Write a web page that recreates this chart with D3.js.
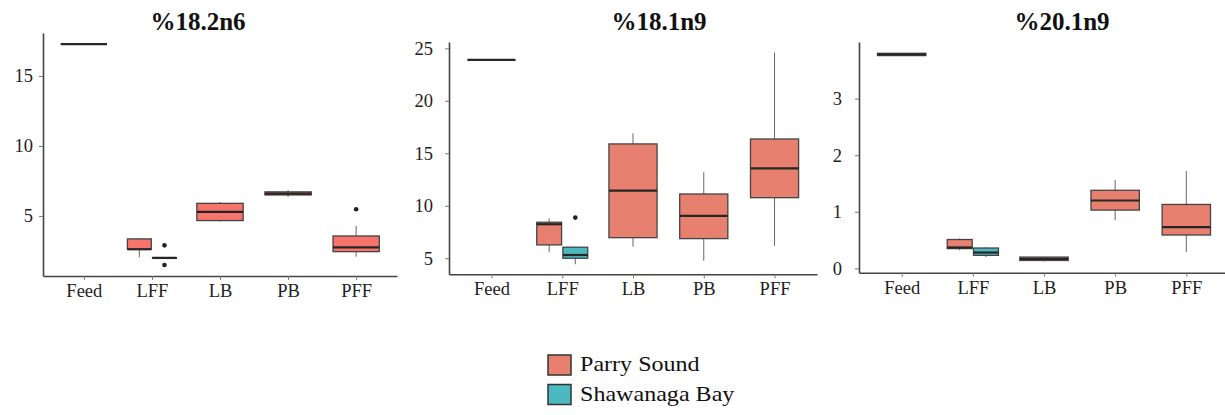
<!DOCTYPE html>
<html>
<head>
<meta charset="utf-8">
<script src="https://cdn.jsdelivr.net/npm/d3@7"></script>
<style>
  body { margin: 0; background: #fff; }
  svg { display: block; }
  text { font-family: "Liberation Serif", serif; }
  .tick text { fill: #1e1e1e; font-size: 18.5px; }
</style>
</head>
<body>
<svg id="chart" width="1225" height="415"></svg>
<script>
const categories = ['Feed', 'LFF', 'LB', 'PB', 'PFF'];
const sites = ['Parry Sound', 'Shawanaga Bay'];
const titles = ['%18.2n6', '%18.1n9', '%20.1n9'];

const ticks182n6 = [5, 10, 15];
const ticks181n9 = [5, 10, 15, 20, 25];
const ticks201n9 = [0, 1, 2, 3];

// box stats: lo/hi = whisker ends
const boxes182n6 = [
  { cat: 'Feed', site: 'Parry Sound', lo: 17.28, q1: 17.28, med: 17.28, q3: 17.28, hi: 17.28, out: [] },
  { cat: 'LFF', site: 'Parry Sound', lo: 2.05, q1: 2.62, med: 2.62, q3: 3.36, hi: 3.4, out: [] },
  { cat: 'LFF', site: 'Shawanaga Bay', lo: 2.0, q1: 1.97, med: 2.0, q3: 2.03, hi: 2.0, out: [2.9, 1.5] },
  { cat: 'LB', site: 'Parry Sound', lo: 4.6, q1: 4.67, med: 5.29, q3: 5.9, hi: 6.0, out: [] },
  { cat: 'PB', site: 'Parry Sound', lo: 6.35, q1: 6.5, med: 6.6, q3: 6.72, hi: 6.85, out: [] },
  { cat: 'PFF', site: 'Parry Sound', lo: 2.09, q1: 2.45, med: 2.76, q3: 3.57, hi: 4.29, out: [5.48] }
];
const boxes181n9 = [
  { cat: 'Feed', site: 'Parry Sound', lo: 23.9, q1: 23.9, med: 23.9, q3: 23.9, hi: 23.9, out: [] },
  { cat: 'LFF', site: 'Parry Sound', lo: 5.57, q1: 6.27, med: 8.24, q3: 8.43, hi: 8.8, out: [] },
  { cat: 'LFF', site: 'Shawanaga Bay', lo: 4.43, q1: 5.0, med: 5.31, q3: 6.05, hi: 6.05, out: [8.87] },
  { cat: 'LB', site: 'Parry Sound', lo: 6.1, q1: 6.96, med: 11.44, q3: 15.89, hi: 16.9, out: [] },
  { cat: 'PB', site: 'Parry Sound', lo: 4.77, q1: 6.87, med: 9.03, q3: 11.12, hi: 13.19, out: [] },
  { cat: 'PFF', site: 'Parry Sound', lo: 6.2, q1: 10.77, med: 13.57, q3: 16.36, hi: 24.6, out: [] }
];
const boxes201n9 = [
  { cat: 'Feed', site: 'Parry Sound', lo: 3.76, q1: 3.76, med: 3.78, q3: 3.8, hi: 3.8, out: [] },
  { cat: 'LFF', site: 'Parry Sound', lo: 0.32, q1: 0.35, med: 0.37, q3: 0.51, hi: 0.53, out: [] },
  { cat: 'LFF', site: 'Shawanaga Bay', lo: 0.2, q1: 0.23, med: 0.28, q3: 0.36, hi: 0.38, out: [] },
  { cat: 'LB', site: 'Parry Sound', lo: 0.12, q1: 0.14, med: 0.17, q3: 0.2, hi: 0.2, out: [] },
  { cat: 'PB', site: 'Parry Sound', lo: 0.85, q1: 1.03, med: 1.2, q3: 1.38, hi: 1.56, out: [] },
  { cat: 'PFF', site: 'Parry Sound', lo: 0.29, q1: 0.59, med: 0.73, q3: 1.13, hi: 1.72, out: [] }
];

const panels = [
  { title: titles[0], boxes: boxes182n6, ticks: ticks182n6, domain: [0.71, 18.07],
    x0: 43, x1: 397, yTop: 33, yBot: 276, titleX: 198, pad: 6, parry: '#F6746B' },
  { title: titles[1], boxes: boxes181n9, ticks: ticks181n9, domain: [3.47, 25.6],
    x0: 449, x1: 817, yTop: 42, yBot: 274.3, titleX: 659, pad: 12, parry: '#E8806F' },
  { title: titles[2], boxes: boxes201n9, ticks: ticks201n9, domain: [-0.076, 4.0],
    x0: 859, x1: 1229, yTop: 42, yBot: 272.7, titleX: 1062, pad: 13, parry: '#E8806F' }
];

const shawColor = '#4BB9BF';
const svg = d3.select('#chart');

panels.forEach(p => {
  const g = svg.append('g');
  const x = d3.scalePoint().domain(categories).range([p.x0, p.x1]).padding(0.6);
  const step = x.step();
  const y = d3.scaleLinear().domain(p.domain).range([p.yBot, p.yTop]);
  const dodge = d3.scaleBand().domain(sites).range([-0.36 * step, 0.36 * step]).paddingInner(0.05);
  const color = d3.scaleOrdinal().domain(sites).range([p.parry, shawColor]);

  p.boxes.forEach(b => {
    const n = p.boxes.filter(o => o.cat === b.cat).length;
    const w = n > 1 ? dodge.bandwidth() : 0.68 * step;
    const cx = x(b.cat) + (n > 1 ? dodge(b.site) + dodge.bandwidth() / 2 : 0);
    const bg = g.append('g');

    bg.append('line')
      .attr('x1', cx).attr('x2', cx)
      .attr('y1', y(b.hi)).attr('y2', y(b.q3))
      .attr('stroke', '#666').attr('stroke-width', 1);
    bg.append('line')
      .attr('x1', cx).attr('x2', cx)
      .attr('y1', y(b.q1)).attr('y2', y(b.lo))
      .attr('stroke', '#666').attr('stroke-width', 1);

    bg.append('rect')
      .attr('x', cx - w / 2)
      .attr('y', y(b.q3))
      .attr('width', w)
      .attr('height', Math.max(0, y(b.q1) - y(b.q3)))
      .attr('fill', color(b.site))
      .attr('stroke', '#444')
      .attr('stroke-width', 1.3);

    bg.append('line')
      .attr('x1', cx - w / 2).attr('x2', cx + w / 2)
      .attr('y1', y(b.med)).attr('y2', y(b.med))
      .attr('stroke', '#262626').attr('stroke-width', 2.2);

    bg.selectAll('circle')
      .data(b.out)
      .enter()
      .append('circle')
      .attr('cx', cx)
      .attr('cy', d => y(d))
      .attr('r', 2.3)
      .attr('fill', '#222');
  });

  const yAxis = g.append('g')
    .attr('transform', `translate(${p.x0},0)`)
    .call(d3.axisLeft(y).tickValues(p.ticks).tickFormat(d3.format('d'))
      .tickSize(4).tickSizeOuter(0).tickPadding(p.pad));
  const xAxis = g.append('g')
    .attr('transform', `translate(0,${p.yBot})`)
    .call(d3.axisBottom(x).tickSize(4).tickSizeOuter(0).tickPadding(4));

  [yAxis, xAxis].forEach(a => {
    a.attr('font-family', '"Liberation Serif", serif').attr('font-size', 18.5);
    a.select('.domain').attr('stroke', '#444').attr('stroke-width', 1.6);
    a.selectAll('.tick line').attr('stroke', '#777');
  });

  g.append('text')
    .attr('x', p.titleX)
    .attr('y', 30)
    .attr('text-anchor', 'middle')
    .attr('font-family', '"Liberation Serif", serif')
    .attr('font-size', 25)
    .attr('font-weight', 'bold')
    .attr('fill', '#111')
    .text(p.title);
});

// legend
const legendColor = d3.scaleOrdinal().domain(sites).range(['#E8806F', shawColor]);
const legend = svg.append('g').attr('transform', 'translate(548,355)');
const items = legend.selectAll('g')
  .data(sites)
  .enter()
  .append('g')
  .attr('transform', (d, i) => `translate(0,${i * 29.5})`);

items.append('rect')
  .attr('width', 23)
  .attr('height', 20)
  .attr('fill', d => legendColor(d))
  .attr('stroke', '#333')
  .attr('stroke-width', 1.5);

items.append('text')
  .attr('transform', 'translate(32,16) scale(1.12,1)')
  .attr('font-family', '"Liberation Serif", serif')
  .attr('font-size', 21.5)
  .attr('fill', '#111')
  .text(d => d);
</script>
</body>
</html>
